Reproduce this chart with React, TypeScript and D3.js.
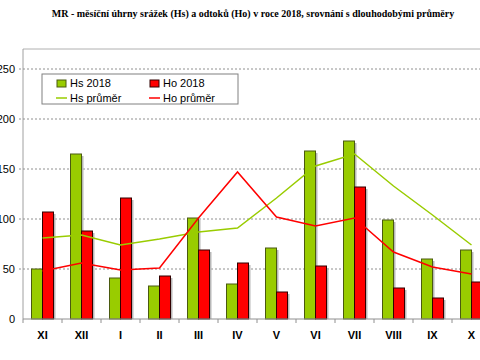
import React from 'react';
import * as d3 from 'd3';

const width = 480;
const height = 360;
const green = '#99CC00';
const red = '#FF0000';

const months = ['XI', 'XII', 'I', 'II', 'III', 'IV', 'V', 'VI', 'VII', 'VIII', 'IX', 'X'];
const hs2018 = [50, 165, 41, 33, 101, 35, 71, 168, 178, 99, 60, 69];
const ho2018 = [107, 88, 121, 43, 69, 56, 27, 53, 132, 31, 21, 37];
const hsAvg = [81, 84, 74, 80, 87, 91, 121, 153, 165, 133, 104, 74];
const hoAvg = [48, 56, 49, 51, 101, 147, 102, 93, 101, 67, 52, 45];
const yTicks = [0, 50, 100, 150, 200, 250];

const title = 'MR - měsíční úhrny srážek (Hs) a odtoků (Ho) v roce 2018, srovnání s dlouhodobými průměry';

export default function App() {
  const x = d3.scaleBand<string>().domain(months).range([23, 23 + 39 * 12]).padding(0);
  const y = d3.scaleLinear().domain([0, 250]).range([319, 69]);
  const barW = 11;
  const cx = (m: string) => (x(m) as number) + x.bandwidth() / 2;

  const line = d3
    .line<number>()
    .x((_, i) => cx(months[i]))
    .y((d) => y(d));

  const plotTop = y(270);
  const plotLeft = x.range()[0];

  return (
    <div style={{ position: 'fixed', left: 0, top: 0 }}>
      <svg width={width} height={height} style={{ display: 'block', fontFamily: 'Liberation Sans, Arial, sans-serif' }}>
        <rect x={0} y={0} width={width} height={height} fill="#fff" />
        <text
          x={253}
          y={17}
          textAnchor="middle"
          fontFamily="Liberation Serif, Times New Roman, serif"
          fontWeight="bold"
          fontSize={10}
        >
          {title}
        </text>

        {/* plot frame */}
        <line x1={plotLeft} x2={width} y1={plotTop} y2={plotTop} stroke="#b0b0b0" />
        <line x1={plotLeft} x2={plotLeft} y1={plotTop} y2={y(0)} stroke="#a0a0a0" />

        {/* grid */}
        {yTicks.filter((t) => t > 0).map((t) => (
          <line key={t} x1={plotLeft - 4} x2={width} y1={y(t)} y2={y(t)} stroke="#909090" strokeDasharray="2,2" />
        ))}
        {yTicks.map((t) => (
          <text key={t} x={15} y={y(t) + 4} textAnchor="end" fontSize={11}>
            {t}
          </text>
        ))}

        {/* bars */}
        {months.map((m, i) => {
          const x0 = cx(m) - barW;
          return (
            <g key={m}>
              <rect x={x0 + 2} y={y(hs2018[i]) + 2} width={barW} height={y(0) - y(hs2018[i]) - 2} fill="#b8b8b8" />
              <rect x={x0 + barW + 2} y={y(ho2018[i]) + 2} width={barW} height={y(0) - y(ho2018[i]) - 2} fill="#b8b8b8" />
              <rect x={x0} y={y(hs2018[i])} width={barW} height={y(0) - y(hs2018[i])} fill={green} stroke="#4a5a10" strokeWidth={1} />
              <rect x={x0 + barW} y={y(ho2018[i])} width={barW} height={y(0) - y(ho2018[i])} fill={red} stroke="#300000" strokeWidth={1} />
            </g>
          );
        })}

        {/* lines */}
        <path d={line(hsAvg) ?? ''} fill="none" stroke={green} strokeWidth={1.5} />
        <path d={line(hoAvg) ?? ''} fill="none" stroke={red} strokeWidth={1.5} />

        {/* x axis */}
        <line x1={plotLeft} x2={width} y1={y(0)} y2={y(0)} stroke="#909090" />
        {months.map((m) => (
          <line key={m} x1={x(m) as number} x2={x(m) as number} y1={y(0)} y2={y(0) + 4} stroke="#909090" />
        ))}
        {months.map((m) => (
          <text key={m} x={cx(m)} y={339} textAnchor="middle" fontSize={11} fontWeight="bold">
            {m}
          </text>
        ))}

        {/* legend */}
        <g>
          <rect x={42} y={74} width={196} height={30} fill="#fff" stroke="#808080" />
          <rect x={57} y={80} width={9} height={7} fill={green} stroke="#4a5a10" />
          <text x={70} y={87} fontSize={11}>Hs 2018</text>
          <rect x={150} y={80} width={9} height={7} fill={red} stroke="#300000" />
          <text x={163} y={87} fontSize={11}>Ho 2018</text>
          <line x1={56} x2={67} y1={98} y2={98} stroke={green} strokeWidth={1.5} />
          <text x={70} y={102} fontSize={11}>Hs průměr</text>
          <line x1={149} x2={160} y1={98} y2={98} stroke={red} strokeWidth={1.5} />
          <text x={163} y={102} fontSize={11}>Ho průměr</text>
        </g>
      </svg>
    </div>
  );
}
